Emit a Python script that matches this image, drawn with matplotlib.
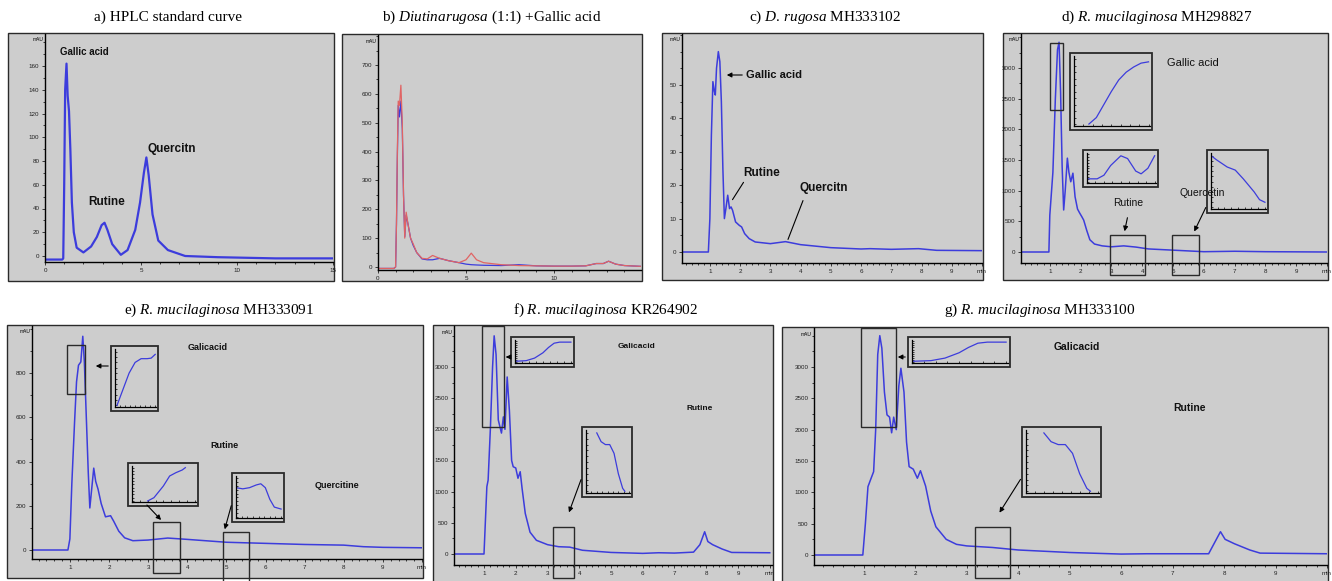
import matplotlib
matplotlib.use('Agg')
import matplotlib.pyplot as plt
from matplotlib.patches import Rectangle, FancyArrowPatch
from matplotlib.ticker import MultipleLocator

W, H = 1332, 581
BG = '#cdcdcd'
BLUE = '#3c3cdc'
RED = '#e06464'

plt.rcParams['font.family'] = ['Liberation Sans', 'DejaVu Sans']
plt.rcParams['mathtext.fontset'] = 'custom'
plt.rcParams['mathtext.rm'] = 'Liberation Serif'
plt.rcParams['mathtext.it'] = 'Liberation Serif:italic'

# chromatograms: retention time (min) vs signal (mAU)
a_t = [0, 0.9, 0.95, 1.0, 1.05, 1.12, 1.18, 1.25, 1.32, 1.4, 1.5, 1.65, 2.0, 2.4, 2.7, 2.95, 3.1,
       3.25, 3.5, 3.95, 4.3, 4.7, 4.95, 5.15, 5.28, 5.4, 5.6, 5.9, 6.4, 7.3, 9.0, 12.0, 15.0]
a_y = [-3, -3, -2, 60, 140, 162, 135, 122, 90, 45, 20, 7, 3, 8, 16, 26, 28,
       22, 10, 1, 5, 22, 45, 70, 83, 68, 35, 13, 5, 0, -1, -2, -2]

b_t = [0, 0.9, 1.0, 1.05, 1.1, 1.15, 1.22, 1.3, 1.38, 1.45, 1.52, 1.6, 1.7, 1.85, 2.0, 2.2, 2.5,
       2.8, 3.1, 3.5, 4.0, 4.6, 5.0, 5.3, 5.6, 6.0, 7.0, 8.0, 9.0, 10.0, 11.0, 11.8, 12.4,
       12.8, 13.1, 13.5, 14.0, 15.0]
b_red = [-5, -5, 0, 150, 400, 575, 560, 630, 500, 250, 100, 190, 150, 100, 80, 50, 30,
         28, 40, 30, 22, 15, 25, 48, 25, 15, 8, 5, 4, 3, 3, 4, 12,
         12, 20, 10, 5, 2]
b_blue = [-5, -5, 0, 150, 380, 560, 520, 575, 480, 250, 105, 180, 150, 100, 75, 50, 28,
          25, 25, 30, 22, 15, 10, 8, 7, 6, 5, 8, 4, 3, 3, 4, 12,
          12, 20, 10, 5, 2]

c_t = [0, 0.95, 1.0, 1.05, 1.1, 1.15, 1.18, 1.22, 1.28, 1.33, 1.38, 1.43, 1.48, 1.53, 1.59, 1.65,
       1.7, 1.75, 1.85, 1.97, 2.05, 2.15, 2.3, 2.5, 3.0, 3.5, 4.0, 5.0, 6.0, 6.3, 7.0, 7.9, 8.5, 10.0]
c_y = [0, 0, 10, 35, 51, 48, 47, 55, 60, 57, 45, 25, 10, 13, 17, 13,
       13.5, 12.5, 9, 8, 7.5, 5.5, 4, 3, 2.5, 3.1, 2.2, 1.3, 0.9, 1.0, 0.8, 1.0, 0.5, 0.4]

d_t = [0, 0.97, 1.0, 1.05, 1.1, 1.18, 1.25, 1.3, 1.35, 1.4, 1.45, 1.5, 1.57, 1.62, 1.68, 1.75,
       1.82, 1.9, 1.97, 2.04, 2.1, 2.2, 2.3, 2.45, 2.7, 3.0, 3.4, 3.8, 4.2, 5.0, 6.0, 7.0, 8.0, 10.0]
d_y = [0, 0, 600, 950, 1300, 2500, 3300, 3420, 2600, 1400, 685, 1000, 1530, 1300, 1145, 1285,
       900, 700, 635, 575, 520, 350, 200, 130, 100, 85, 100, 80, 50, 30, 5, 12, 5, 0]

e_t = [0, 0.95, 1.0, 1.05, 1.12, 1.17, 1.22, 1.28, 1.33, 1.37, 1.42, 1.47, 1.51, 1.56, 1.61, 1.66,
       1.72, 1.8, 1.91, 2.04, 2.12, 2.25, 2.4, 2.61, 3.0, 3.5, 4.0, 5.0, 6.0, 7.0, 8.0, 8.5, 9.0, 10.0]
e_y = [0, 0, 50, 300, 579, 760, 835, 850, 966, 850, 600, 350, 190, 280, 370, 310,
       275, 210, 150, 155, 130, 85, 55, 42, 45, 54, 48, 35, 30, 25, 22, 15, 12, 10]

f_t = [0, 1.0, 1.05, 1.09, 1.13, 1.2, 1.27, 1.32, 1.38, 1.45, 1.55, 1.61, 1.66, 1.73, 1.8, 1.87,
       1.92, 2.0, 2.07, 2.14, 2.2, 2.3, 2.45, 2.65, 3.0, 3.35, 3.7, 4.1, 5.0, 6.0, 6.5, 7.0, 7.6,
       7.8, 7.95, 8.05, 8.2, 8.5, 8.8, 10.0]
f_y = [0, 0, 600, 1080, 1185, 2000, 3000, 3500, 3200, 2150, 1940, 2200, 2000, 2840, 2300, 1500,
       1400, 1380, 1215, 1320, 1050, 650, 350, 220, 150, 117, 110, 60, 25, 10, 20, 15, 30,
       150, 357, 200, 150, 80, 25, 20]

g_t = [0, 0.98, 1.03, 1.08, 1.13, 1.19, 1.23, 1.27, 1.31, 1.35, 1.4, 1.45, 1.5, 1.54, 1.58, 1.63,
       1.68, 1.72, 1.78, 1.83, 1.88, 1.96, 2.04, 2.1, 2.2, 2.3, 2.4, 2.6, 2.8, 3.0, 3.5, 4.0, 4.5,
       5.0, 6.0, 6.5, 7.0, 7.7, 7.85, 7.93, 8.02, 8.2, 8.5, 8.7, 10.0]
g_y = [0, 0, 500, 1090, 1200, 1330, 2000, 3200, 3500, 3300, 2600, 2236, 2200, 1950, 2200, 2000,
       2700, 2980, 2600, 1800, 1410, 1370, 1225, 1345, 1100, 700, 450, 250, 170, 145, 120, 80, 60,
       40, 15, 20, 20, 20, 250, 372, 250, 180, 80, 30, 20]

# zoomed insets (normalised 0-1 coordinates)
d_in1 = ([0.2, 0.3, 0.4, 0.5, 0.6, 0.7, 0.8, 0.9, 1.0], [0.0, 0.1, 0.3, 0.5, 0.68, 0.8, 0.88, 0.94, 0.96])
d_in2 = ([0.0, 0.15, 0.25, 0.35, 0.5, 0.6, 0.72, 0.8, 0.9, 1.0], [0.12, 0.12, 0.25, 0.6, 0.95, 0.85, 0.4, 0.3, 0.5, 0.95])
d_in3 = ([0.0, 0.1, 0.3, 0.45, 0.6, 0.8, 0.9, 1.0], [1.0, 0.92, 0.78, 0.72, 0.55, 0.3, 0.15, 0.1])
e_in1 = ([0.05, 0.2, 0.35, 0.5, 0.65, 0.8, 0.9, 1.0], [0.0, 0.3, 0.6, 0.8, 0.87, 0.87, 0.88, 0.95])
e_in2 = ([0.25, 0.35, 0.5, 0.6, 0.7, 0.8, 0.85], [0.0, 0.1, 0.45, 0.75, 0.85, 0.93, 1.0])
e_in3 = ([0.0, 0.15, 0.3, 0.45, 0.55, 0.65, 0.75, 0.85, 1.0], [0.75, 0.72, 0.75, 0.82, 0.85, 0.75, 0.45, 0.25, 0.2])
fg_in1 = ([0.0, 0.2, 0.35, 0.5, 0.6, 0.7, 0.8, 1.0], [0.05, 0.08, 0.2, 0.45, 0.7, 0.9, 0.95, 0.95])
fg_in2 = ([0.25, 0.35, 0.45, 0.55, 0.65, 0.75, 0.85, 0.9], [1.0, 0.85, 0.8, 0.8, 0.65, 0.3, 0.05, 0.0])

fig = plt.figure(figsize=(W / 100, H / 100), dpi=100)


def fx(x):
    return x / W


def fy(y):
    return 1 - y / H


def frame(l, t, r, b, lw=1.0, z=-1, fc=BG):
    fig.add_artist(Rectangle((fx(l), fy(b)), (r - l) / W, (b - t) / H, transform=fig.transFigure,
                             facecolor=fc, edgecolor='#2a2a2a', lw=lw, zorder=z))


def arrow(x1, y1, x2, y2, head=True):
    fig.add_artist(FancyArrowPatch((fx(x1), fy(y1)), (fx(x2), fy(y2)), transform=fig.transFigure,
                                   arrowstyle='-|>' if head else '-', mutation_scale=7,
                                   lw=0.8, color='k', zorder=6))


def label(x, y, s, size=7, bold=False):
    fig.text(fx(x), fy(y), s, ha='left', va='center', fontsize=size,
             fontweight='bold' if bold else 'normal', color='#111', zorder=7)


def panel(title, tx, ty, fr, box, xref, yref, xmaj, xmin, ymaj, ytop, xend=None):
    frame(*fr)
    l, t, r, b = box
    ax = fig.add_axes([fx(l), fy(b), (r - l) / W, (b - t) / H])
    ax.set_facecolor('none')
    (p1, v1), (p2, v2) = xref
    k = (v2 - v1) / (p2 - p1)
    ax.set_xlim(v1 + (l - p1) * k, v1 + (r - p1) * k)
    (q1, w1), (q2, w2) = yref
    k = (w2 - w1) / (q2 - q1)
    ylim = (w1 + (b - q1) * k, w1 + (t - q1) * k)
    for s in ('top', 'right'):
        ax.spines[s].set_visible(False)
    for s in ('left', 'bottom'):
        ax.spines[s].set_linewidth(1.0)
    ax.xaxis.set_minor_locator(MultipleLocator(xmin))
    ax.set_yticks([v * ymaj for v in range(int(ytop / ymaj) + 1)])
    ax.yaxis.set_minor_locator(MultipleLocator(ymaj / 2))
    if xend is None:
        ax.xaxis.set_major_locator(MultipleLocator(xmaj))
    else:
        ax.set_xticks(list(range(1, 10)) + [10])
        ax.set_xticklabels([str(i) for i in range(1, 10)] + ['min'])
    ax.tick_params(which='major', length=2.5, width=0.6, labelsize=4.5, pad=1.5, colors='#222')
    ax.tick_params(which='minor', length=1.5, width=0.5)
    ax.set_ylim(*ylim)
    ax.text(-0.005, 0.985, 'mAU', transform=ax.transAxes, ha='right', va='top', fontsize=3.5)
    fig.text(fx(tx), fy(ty), title, ha='center', va='center', fontsize=11, family='Liberation Serif')
    return ax


def inset(box, curve):
    l, t, r, b = box
    frame(l, t, r, b, lw=1.3, z=4)
    ax = fig.add_axes([fx(l + 4), fy(b - 4), (r - l - 6) / W, (b - t - 7) / H])
    ax.set_zorder(5)
    ax.set_facecolor('none')
    for s in ('top', 'right'):
        ax.spines[s].set_visible(False)
    for s in ('left', 'bottom'):
        ax.spines[s].set_linewidth(0.9)
    ax.set_xlim(0, 1.02)
    ax.set_ylim(-0.03, 1.05)
    ax.xaxis.set_major_locator(MultipleLocator(0.125))
    ax.yaxis.set_major_locator(MultipleLocator(0.1))
    ax.tick_params(direction='in', length=1.5, width=0.5, labelbottom=False, labelleft=False)
    ax.plot(curve[0], curve[1], color=BLUE, lw=0.9)


def box(l, t, r, b):
    frame(l, t, r, b, lw=1.0, z=3, fc='none')


# a) standard curve
ax = panel('a) HPLC standard curve', 168, 17, (8, 33, 334, 281), (45, 34, 333, 262),
           ((45, 0), (237, 10)), ((256, 0), (66, 160)), 5, 1, 20, 160)
ax.plot(a_t, a_y, color=BLUE, lw=1.6)
label(60, 52, 'Gallic acid', 7, True)
label(88, 202, 'Rutine', 8.5, True)
label(148, 149, 'Quercitn', 8.5, True)

# b) D. rugosa + gallic acid
ax = panel(r'b) $\mathit{Diutinarugosa}$ (1:1) +Gallic acid', 492, 17, (342, 34, 642, 281),
           (378, 35, 641, 270), ((378, 0), (554, 10)), ((267, 0), (65, 700)), 5, 1, 100, 700)
ax.plot(b_t, b_blue, color=BLUE, lw=0.9)
ax.plot(b_t, b_red, color=RED, lw=0.9)

# c) D. rugosa MH333102
ax = panel(r'c) $\mathit{D.\,rugosa}$ MH333102', 825, 17, (662, 33, 983, 280), (682, 34, 982, 263),
           ((710, 1), (953, 9)), ((252, 0), (85, 50)), 1, 0.2, 10, 50, xend=True)
ax.plot(c_t, c_y, color=BLUE, lw=1.1)
label(746, 75, 'Gallic acid', 8, True)
label(743, 173, 'Rutine', 8.5, True)
label(800, 188, 'Quercitn', 8.5, True)
arrow(745, 75, 724, 75)
arrow(745, 180, 731, 202, head=False)
arrow(804, 198, 787, 242, head=False)

# d) R. mucilaginosa MH298827
ax = panel(r'd) $\mathit{R.\,mucilaginosa}$ MH298827', 1157, 17, (1003, 33, 1328, 280),
           (1021, 34, 1327, 263), ((1050, 1), (1298, 9)), ((252, 0), (68, 3000)), 1, 0.2, 500, 3000,
           xend=True)
ax.plot(d_t, d_y, color=BLUE, lw=1.1)
box(1050, 43, 1063, 110)
box(1110, 235, 1145, 275)
box(1172, 235, 1199, 275)
inset((1070, 53, 1152, 130), d_in1)
inset((1083, 150, 1158, 187), d_in2)
inset((1207, 150, 1268, 213), d_in3)
label(1167, 63, 'Gallic acid', 8)
label(1113, 203, 'Rutine', 7.5)
label(1180, 193, 'Quercetin', 7.5)
arrow(1128, 215, 1124, 234)
arrow(1207, 205, 1193, 234)

# e) R. mucilaginosa MH333091
ax = panel(r'e) $\mathit{R.\,mucilaginosa}$ MH333091', 219, 310, (7, 325, 423, 578),
           (32, 326, 422, 559), ((70, 1), (384, 9)), ((550, 0), (373, 800)), 1, 0.2, 200, 800,
           xend=True)
ax.plot(e_t, e_y, color=BLUE, lw=1.1)
box(67, 345, 85, 394)
box(153, 522, 180, 573)
box(223, 532, 249, 590)
inset((111, 346, 158, 411), e_in1)
inset((128, 463, 198, 506), e_in2)
inset((232, 473, 284, 522), e_in3)
label(188, 347, 'Galicacid', 6.5, True)
label(210, 445, 'Rutine', 6.5, True)
label(315, 486, 'Quercitine', 6.5, True)
arrow(111, 366, 93, 366)
arrow(145, 503, 163, 522)
arrow(232, 503, 224, 532)

# f) R. mucilaginosa KR264902
ax = panel(r'f) $\mathit{R.\,mucilaginosa}$ KR264902', 606, 310, (433, 325, 773, 590),
           (454, 326, 772, 565), ((484, 1), (738, 9)), ((554, 0), (367, 3000)), 1, 0.2, 500, 3000,
           xend=True)
ax.plot(f_t, f_y, color=BLUE, lw=1.1)
box(482, 326, 504, 427)
box(553, 527, 574, 578)
inset((511, 337, 574, 367), fg_in1)
inset((582, 427, 632, 497), fg_in2)
label(618, 347, 'Galicacid', 6, True)
label(687, 408, 'Rutine', 6, True)
arrow(511, 357, 503, 357)
arrow(582, 477, 568, 515)

# g) R. mucilaginosa MH333100
ax = panel(r'g) $\mathit{R.\,mucilaginosa}$ MH333100', 1040, 310, (782, 327, 1328, 590),
           (814, 328, 1327, 565), ((864, 1), (1277, 9)), ((555, 0), (367, 3000)), 1, 0.2, 500, 3000,
           xend=True)
ax.plot(g_t, g_y, color=BLUE, lw=1.1)
box(861, 328, 896, 427)
box(975, 527, 1010, 578)
inset((908, 337, 1010, 367), fg_in1)
inset((1022, 427, 1101, 497), fg_in2)
label(1054, 347, 'Galicacid', 7.5, True)
label(1173, 408, 'Rutine', 7.5, True)
arrow(908, 357, 895, 357)
arrow(1022, 477, 998, 515)

fig.savefig('out.png', dpi=100)
